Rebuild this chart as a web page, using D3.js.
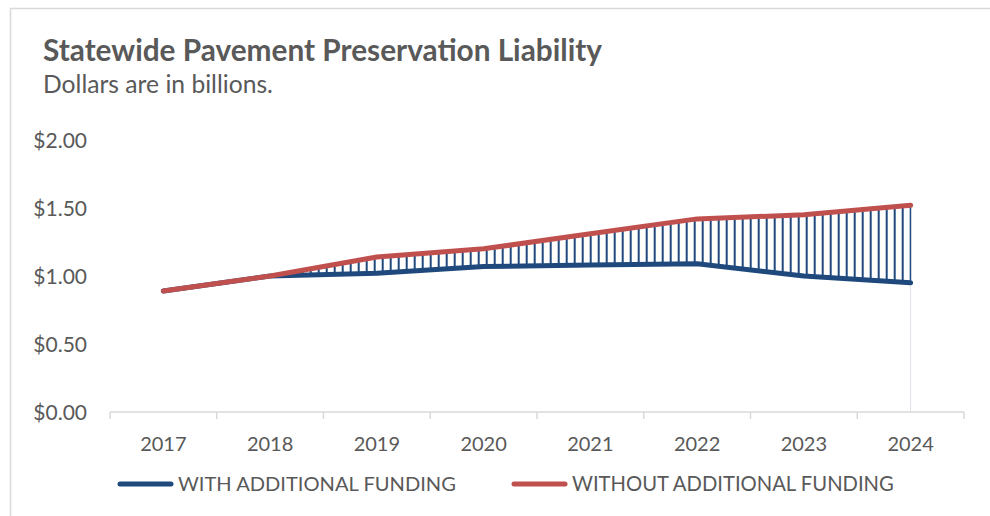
<!DOCTYPE html>
<html>
<head>
<meta charset="utf-8">
<script src="https://cdn.jsdelivr.net/npm/d3@7"></script>
<style>
  body { margin: 0; background: #fff; }
  svg { display: block; font-family: Lato, "Open Sans", sans-serif; }
</style>
</head>
<body>
<svg id="chart" width="990" height="516"></svg>
<script>
const years = ['2017', '2018', '2019', '2020', '2021', '2022', '2023', '2024'];
const withFunding = [0.89, 1.00, 1.02, 1.07, 1.08, 1.09, 1.00, 0.95];
const withoutFunding = [0.89, 1.00, 1.14, 1.20, 1.31, 1.42, 1.45, 1.52];
const yTicks = [0, 0.5, 1.0, 1.5, 2.0];
const seriesNames = ['WITH ADDITIONAL FUNDING', 'WITHOUT ADDITIONAL FUNDING'];

const blue = '#1f497d';
const red = '#c0504d';
const textColor = '#595959';

const svg = d3.select('#chart');

// shrink/grow font so text spans the width seen in the reference
function fitText(sel, target) {
  const node = sel.node();
  const size = parseFloat(sel.attr('font-size'));
  const w = node.getComputedTextLength();
  sel.attr('font-size', (size * target / w).toFixed(2));
  return sel;
}

// frame
svg.append('rect')
  .attr('x', 10.5).attr('y', 8.5)
  .attr('width', 1000).attr('height', 530)
  .attr('fill', 'none').attr('stroke', '#d9d9d9').attr('stroke-width', 1.5);

fitText(svg.append('text')
  .attr('x', 43).attr('y', 61)
  .attr('font-size', 24).attr('font-weight', 'bold')
  .attr('fill', textColor)
  .text('Statewide Pavement Preservation Liability'), 559);

fitText(svg.append('text')
  .attr('x', 43).attr('y', 93)
  .attr('font-size', 20)
  .attr('fill', textColor)
  .text('Dollars are in billions.'), 230);

const margin = { top: 140, right: 26, bottom: 104, left: 110 };
const width = 990, height = 516;

const x = d3.scaleBand()
  .domain(years)
  .range([margin.left, width - margin.right]);

const y = d3.scaleLinear()
  .domain([0, 2])
  .range([height - margin.bottom, margin.top]);

const cx = d => x(d) + x.bandwidth() / 2;

// y axis labels only
svg.append('g')
  .attr('transform', `translate(${margin.left - 23},0)`)
  .call(d3.axisLeft(y).tickValues(yTicks).tickSize(0).tickPadding(0)
    .tickFormat(d => '$' + d3.format('.2f')(d)))
  .call(g => g.select('.domain').remove())
  .call(g => g.selectAll('.tick text')
    .attr('fill', textColor)
    .attr('font-size', 21)
    .attr('dy', '0.35em')
    .attr('font-family', 'Lato, "Open Sans", sans-serif'));

// x axis with ticks on the band edges
const xAxis = svg.append('g')
  .attr('transform', `translate(0,${y(0)})`);
xAxis.append('line')
  .attr('x1', margin.left).attr('x2', width - margin.right)
  .attr('stroke', '#d9d9d9').attr('stroke-width', 1.5);
xAxis.selectAll('.edge')
  .data(years.concat(['end']))
  .join('line')
  .attr('class', 'edge')
  .attr('x1', (d, i) => margin.left + i * x.bandwidth())
  .attr('x2', (d, i) => margin.left + i * x.bandwidth())
  .attr('y1', 0).attr('y2', 7)
  .attr('stroke', '#d9d9d9').attr('stroke-width', 1.5);
xAxis.selectAll('.lbl')
  .data(years)
  .join('text')
  .attr('class', 'lbl')
  .attr('x', d => cx(d))
  .attr('y', 39)
  .attr('text-anchor', 'middle')
  .attr('font-size', 20)
  .attr('fill', textColor)
  .text(d => d);

const data = years.map((d, i) => ({ year: d, lo: withFunding[i], hi: withoutFunding[i] }));

// striped fill between the two series
const defs = svg.append('defs');
const pattern = defs.append('pattern')
  .attr('id', 'stripes')
  .attr('patternUnits', 'userSpaceOnUse')
  .attr('x', 5.7).attr('y', 0)
  .attr('width', 8).attr('height', 8);
pattern.append('rect')
  .attr('x', 0).attr('y', 0).attr('width', 2).attr('height', 8)
  .attr('fill', blue);

const area = d3.area()
  .x(d => cx(d.year))
  .y0(d => y(d.lo))
  .y1(d => y(d.hi));

svg.append('path')
  .datum(data)
  .attr('fill', 'url(#stripes)')
  .attr('d', area);

// faint edge at the last category
const last = data[data.length - 1];
svg.append('line')
  .attr('x1', cx(last.year)).attr('x2', cx(last.year))
  .attr('y1', y(last.lo)).attr('y2', y(0))
  .attr('stroke', '#dde1ea').attr('stroke-width', 1);
svg.append('line')
  .attr('x1', cx(last.year)).attr('x2', cx(last.year))
  .attr('y1', y(last.lo)).attr('y2', y(last.hi))
  .attr('stroke', blue).attr('stroke-width', 1.2);

const lineLo = d3.line().x(d => cx(d.year)).y(d => y(d.lo));
const lineHi = d3.line().x(d => cx(d.year)).y(d => y(d.hi));

svg.append('path')
  .datum(data)
  .attr('fill', 'none')
  .attr('stroke', blue)
  .attr('stroke-width', 5)
  .attr('stroke-linecap', 'round')
  .attr('stroke-linejoin', 'round')
  .attr('d', lineLo);

svg.append('path')
  .datum(data)
  .attr('fill', 'none')
  .attr('stroke', red)
  .attr('stroke-width', 5)
  .attr('stroke-linecap', 'round')
  .attr('stroke-linejoin', 'round')
  .attr('d', lineHi);

// legend
const legendItems = [
  { name: seriesNames[0], color: blue, x: 120, w: 278 },
  { name: seriesNames[1], color: red, x: 514, w: 322 }
];
legendItems.forEach(item => {
  svg.append('line')
    .attr('x1', item.x).attr('x2', item.x + 51)
    .attr('y1', 484).attr('y2', 484)
    .attr('stroke', item.color).attr('stroke-width', 5)
    .attr('stroke-linecap', 'round');
  fitText(svg.append('text')
    .attr('x', item.x + 58).attr('y', 491)
    .attr('font-size', 19)
    .attr('fill', textColor)
    .text(item.name), item.w);
});
</script>
</body>
</html>
